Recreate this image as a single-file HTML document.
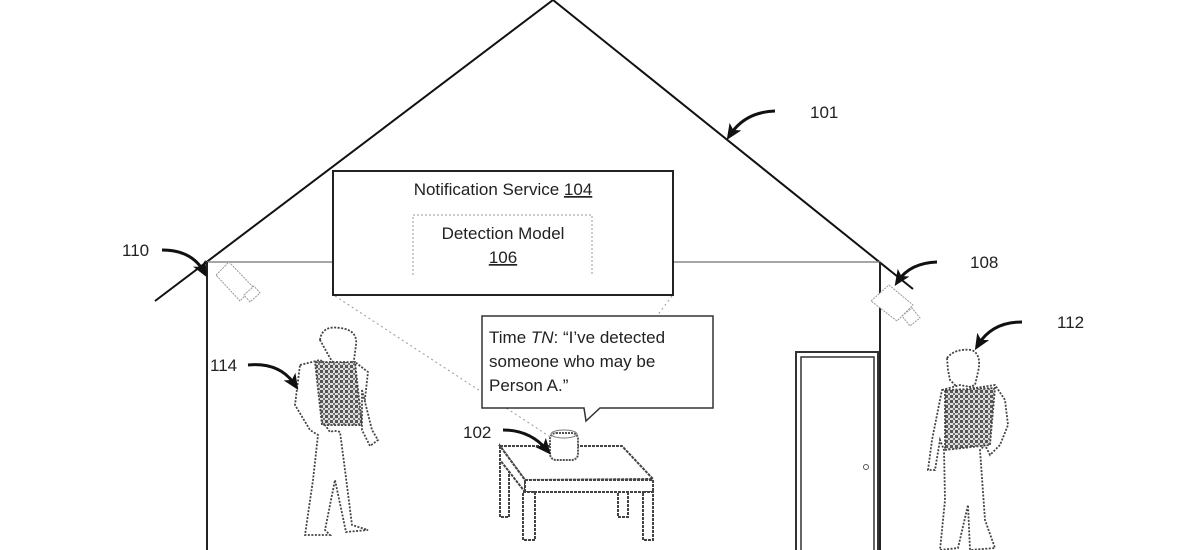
<!DOCTYPE html>
<html><head><meta charset="utf-8"><style>
html,body{margin:0;padding:0;background:#fff;}
svg{display:block}
text{font-family:"Liberation Sans",Arial,sans-serif;fill:#222}
</style></head><body>
<svg width="1200" height="550" viewBox="0 0 1200 550" xmlns="http://www.w3.org/2000/svg">
<defs>
<pattern id="chk" width="5" height="5" patternUnits="userSpaceOnUse">
<rect width="5" height="5" fill="#ddd"/><rect width="3" height="3" fill="#555"/><rect x="3" y="3" width="2" height="2" fill="#777"/>
</pattern>
<marker id="ah" markerWidth="16" markerHeight="14" refX="10" refY="7" orient="auto" markerUnits="userSpaceOnUse">
<path d="M0,0 L16,7 L0,14 L4,7 Z" fill="#111"/></marker>
</defs>
<line x1="553" y1="0" x2="155" y2="301" stroke="#111" stroke-width="2"/>
<line x1="553" y1="0" x2="913" y2="289" stroke="#111" stroke-width="2"/>
<line x1="207" y1="262" x2="333" y2="262" stroke="#888" stroke-width="1.5"/>
<line x1="673" y1="262" x2="880" y2="262" stroke="#888" stroke-width="1.5"/>
<line x1="207" y1="262" x2="207" y2="550" stroke="#222" stroke-width="2"/>
<line x1="880" y1="262" x2="880" y2="550" stroke="#222" stroke-width="2"/>
<line x1="335" y1="296" x2="555" y2="440" stroke="#999" stroke-width="1" stroke-dasharray="2,3"/>
<line x1="672" y1="296" x2="657" y2="316" stroke="#999" stroke-width="1" stroke-dasharray="2,3"/>
<rect x="333" y="171" width="340" height="124" fill="#fff" stroke="#222" stroke-width="2"/>
<text x="503" y="195" font-size="17" text-anchor="middle">Notification Service <tspan text-decoration="underline">104</tspan></text>
<path d="M413,275 L413,215 L592,215 L592,275" fill="none" stroke="#999" stroke-width="1" stroke-dasharray="2,2"/>
<text x="503" y="239" font-size="17" text-anchor="middle">Detection Model</text>
<text x="503" y="263" font-size="17" text-anchor="middle" text-decoration="underline">106</text>
<path d="M482,316 L713,316 L713,408 L600,408 L586,421 L584,408 L482,408 Z" fill="#fff" stroke="#333" stroke-width="1.5"/>
<text x="489" y="343" font-size="17">Time <tspan font-style="italic">TN</tspan>: “I’ve detected</text>
<text x="489" y="367" font-size="17">someone who may be</text>
<text x="489" y="391" font-size="17">Person A.”</text>
<rect x="796" y="352" width="82" height="200" fill="none" stroke="#333" stroke-width="2"/>
<rect x="801" y="357" width="73" height="195" fill="none" stroke="#333" stroke-width="1.5"/>
<circle cx="866" cy="467" r="2.5" fill="none" stroke="#555"/>
<g fill="#fff" stroke="#444" stroke-width="2" stroke-dasharray="3,1">
<rect x="500" y="455" width="9" height="62"/>
<rect x="618" y="490" width="10" height="27"/>
<path d="M500,446 L622,446 L653,479 L525,480 Z"/>
<path d="M500,446 L500,460 L525,492 L525,480 Z"/>
<rect x="525" y="480" width="128" height="12"/>
<rect x="523" y="492" width="12" height="48"/>
<rect x="643" y="492" width="10" height="48"/>
</g>
<rect x="550" y="433" width="28" height="27" rx="6" fill="#fff" stroke="#555" stroke-width="2" stroke-dasharray="2,1"/>
<ellipse cx="564" cy="434" rx="13" ry="4" fill="none" stroke="#777" stroke-width="1"/>
<g fill="#fff" stroke="#999" stroke-width="1" stroke-dasharray="2,1">
<path d="M216,275 L229,262 L253,287 L240,301 Z"/>
<path d="M244,295 L254,286 L260,293 L250,302 Z"/>
<path d="M871,301 L889,285 L913,305 L897,321 Z"/>
<path d="M902,316 L912,308 L920,318 L910,326 Z"/>
</g>
<g stroke="#444" stroke-width="1.8" stroke-dasharray="2,1.5" fill="#fff">
<path d="M320,340 Q322,325 340,328 Q358,330 356,345 L354,360 Q348,372 338,370 L330,358 Z"/>
<path d="M300,365 L320,360 L340,372 L355,362 L368,372 L362,425 L325,425 L330,432 Q335,430 340,432 L345,470 L352,525 L368,530 L346,532 L335,480 L325,530 L330,535 L305,535 L313,480 L318,435 L310,430 L295,405 Z"/>
<path d="M315,362 L355,362 L362,425 L322,425 Z" fill="url(#chk)"/>
<path d="M362,390 L372,430 L378,440 L370,446 L362,430 Z"/>
</g>
<g stroke="#444" stroke-width="1.8" stroke-dasharray="2,1.5" fill="#fff">
<path d="M947,358 Q955,348 972,350 Q982,355 978,372 L975,385 L960,390 L950,380 L948,370 Z"/>
<path d="M942,390 L960,385 L975,388 L995,385 L1005,400 L1008,425 L1000,445 L990,455 L985,445 L980,450 L985,520 L995,548 L970,550 L968,505 L958,548 L940,550 L945,500 L944,450 L940,440 L935,470 L928,470 L932,440 Z"/>
<path d="M945,390 L995,388 L990,445 L945,450 Z" fill="url(#chk)"/>
</g>
<g fill="none" stroke="#111" stroke-width="3" marker-end="url(#ah)">
<path d="M775,111 Q745,112 730,135"/>
<path d="M162,250 Q192,250 204,272"/>
<path d="M937,262 Q910,263 898,281"/>
<path d="M1022,322 Q992,322 978,345"/>
<path d="M248,365 Q280,362 295,385"/>
<path d="M503,430 Q530,430 547,450"/>
</g>
<g font-size="17">
<text x="810" y="118">101</text>
<text x="122" y="256">110</text>
<text x="970" y="268">108</text>
<text x="1057" y="328">112</text>
<text x="210" y="371">114</text>
<text x="463" y="438">102</text>
</g>
</svg>
</body></html>
